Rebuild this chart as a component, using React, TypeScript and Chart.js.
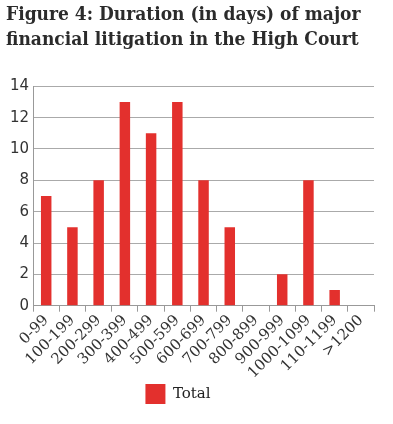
import React, { useEffect, useRef } from "react";
import { Chart, registerables } from "chart.js";

Chart.register(...registerables);

const categories = ["0-99", "100-199", "200-299", "300-399", "400-499", "500-599", "600-699", "700-799", "800-899", "900-999", "1000-1099", "110-1199", ">1200"];
const totals = [7, 5, 8, 13, 11, 13, 8, 5, 0, 2, 8, 1, 0];
const titleLines = ["Figure 4: Duration (in days) of major", "financial litigation in the High Court"];
const seriesName = "Total";

const legendShift = {
  id: "legendShift",
  afterUpdate(chart: any) {
    const lg = chart.legend;
    if (lg) {
      lg.left -= 12;
      lg.right -= 12;
    }
  },
};

export default function App() {
  const ref = useRef<HTMLCanvasElement>(null);
  useEffect(() => {
    document.body.style.margin = "0";
    const chart = new Chart(ref.current!, {
      type: "bar",
      data: {
        labels: categories,
        datasets: [
          {
            label: seriesName,
            data: totals,
            backgroundColor: "#e3302d",
            barPercentage: 0.4,
            categoryPercentage: 1,
          },
        ],
      },
      plugins: [legendShift],
      options: {
        animation: false,
        responsive: false,
        layout: { padding: { left: 6, right: 19, top: 0, bottom: 10 } },
        plugins: {
          title: {
            display: true,
            text: titleLines,
            align: "start",
            color: "#2b2b2b",
            font: { family: "'DejaVu Serif Condensed', 'DejaVu Serif'", size: 19, weight: "bold", lineHeight: 1.35 },
            padding: { top: 2, bottom: 33 },
          },
          legend: {
            position: "bottom",
            labels: {
              color: "#222",
              boxWidth: 20,
              boxHeight: 20,
              padding: 2,
              font: { family: "'DejaVu Serif'", size: 15 },
            },
          },
          tooltip: { enabled: false },
        },
        scales: {
          x: {
            grid: { display: true, drawOnChartArea: false, offset: true, color: "#999", tickLength: 6 },
            border: { color: "#999" },
            ticks: {
              color: "#333",
              maxRotation: 45,
              minRotation: 45,
              autoSkip: false,
              padding: 0,
              font: { family: "'DejaVu Serif'", size: 15 },
            },
          },
          y: {
            min: 0,
            max: 14,
            ticks: { stepSize: 2, color: "#333", padding: 4, font: { family: "'DejaVu Sans'", size: 15 } },
            grid: { color: "#aaa", drawTicks: false },
            border: { color: "#999" },
          },
        },
      },
    });
    return () => chart.destroy();
  }, []);
  return <canvas ref={ref} width={393} height={424} style={{ display: "block" }} />;
}
